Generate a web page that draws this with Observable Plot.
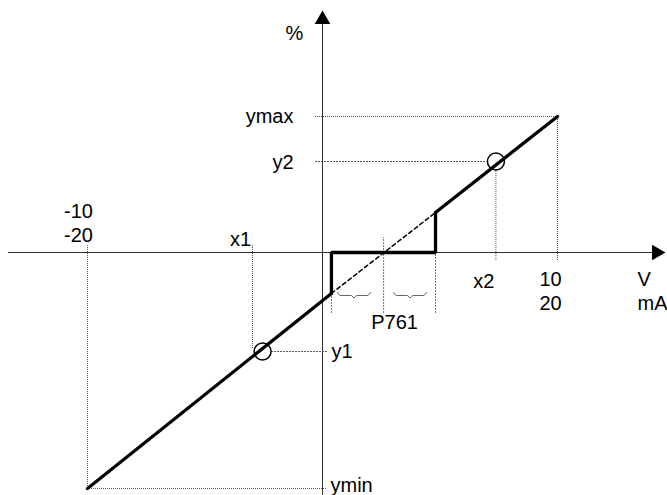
<!DOCTYPE html>
<html><head><meta charset="utf-8">
<script src="https://cdn.jsdelivr.net/npm/d3@7"></script>
<script src="https://cdn.jsdelivr.net/npm/@observablehq/plot@0.6"></script>
<style>body{margin:0;background:#fff} svg{display:block}</style>
</head><body><div id="chart"></div>
<script>
// ---- data (V on x, % on y) ----
const inputV = [-10, 10];            // input range, volts
const inputMA = [-20, 20];           // input range, milliamps
const outMax = 100;                  // ymax (%)
const outMin = -173.5;               // ymin (%)
const point1 = [-2.55, -72.8];       // (x1, y1) marker
const x1Guide = -2.98;
const point2 = [7.38, 66.9];         // (x2, y2) marker
const deadband = [0.38, 2.6, 4.81];  // low edge, centre, high edge (P761)
const stepLevels = [-30.1, 29.4];    // output at deadband edges
const axisLabelsX = ["V", "mA"];
const axisLabelY = "%";

// ---- scales ----
const pxPerV = 23.5, pxPerPct = 1.36, x0 = 322, y0 = 252;
const W = 667, H = 495;
const xDom = [-x0 / pxPerV, (W - x0) / pxPerV];
const yDom = [-(H - y0) / pxPerPct, y0 / pxPerPct];
const px = p => p / pxPerV, py = p => p / pxPerPct;   // pixel offsets -> data units

const grey = "#555";
const font = "Liberation Sans, Arial, sans-serif";
const fs = 20;

// braces under the two halves of the deadband
function brace(a, b, top) {
  const m = (a + b) / 2, d = py(3);
  return [[a, top], [a + px(2.5), top - d], [m - px(2.5), top - d], [m, top - d - py(2.5)],
          [m + px(2.5), top - d], [b - px(2.5), top - d], [b, top]];
}
const braces = [
  brace(deadband[0] + px(6), deadband[1] - px(13), -py(40)),
  brace(deadband[1] + px(10), deadband[2] - px(9), -py(40))
];

// label anchors (data) with pixel nudges
const labels = [
  {x: 0, y: outMax, t: axisLabelY, dx: -28, dy: -83, a: "middle"},
  {x: 0, y: outMax, t: "ymax", dx: -29, dy: 0, a: "end"},
  {x: 0, y: point2[1], t: "y2", dx: -29, dy: 1, a: "end"},
  {x: inputV[0], y: 0, t: String(inputV[0]), dx: -9, dy: -41, a: "middle"},
  {x: inputV[0], y: 0, t: String(inputMA[0]), dx: -9, dy: -17, a: "middle"},
  {x: x1Guide, y: 0, t: "x1", dx: -12, dy: -13, a: "middle"},
  {x: point2[0], y: 0, t: "x2", dx: -12, dy: 29, a: "middle"},
  {x: inputV[1], y: 0, t: String(inputV[1]), dx: -7, dy: 27, a: "middle"},
  {x: inputV[1], y: 0, t: String(inputMA[1]), dx: -7, dy: 51, a: "middle"},
  {x: inputV[1], y: 0, t: axisLabelsX[0], dx: 80, dy: 27, a: "start"},
  {x: inputV[1], y: 0, t: axisLabelsX[1], dx: 80, dy: 51, a: "start"},
  {x: deadband[1], y: 0, t: "P761", dx: 11, dy: 70, a: "middle"},
  {x: 0, y: point1[1], t: "y1", dx: 9, dy: 0, a: "start"},
  {x: 0, y: outMin, t: "ymin", dx: 8, dy: -3, a: "start"}
];
const lx = d => d.x + px(d.dx), ly = d => d.y - py(d.dy);
const textMarks = ["start", "middle", "end"].map(a =>
  Plot.text(labels.filter(d => d.a === a), {x: lx, y: ly, text: "t", textAnchor: a, fontSize: fs, fill: "#000"}));

const dotted = {stroke: grey, strokeWidth: 1, strokeDasharray: "1,1"};
const XY = {x: d => d[0], y: d => d[1]};

const chart = Plot.plot({
  width: W, height: H,
  margin: 0,
  x: {domain: xDom, range: [0, W], axis: null},
  y: {domain: yDom, range: [H, 0], axis: null},
  style: {fontFamily: font, background: "#fff"},
  marks: [
    // axes
    Plot.ruleX([0], {y1: yDom[0], y2: yDom[1] - py(22), stroke: "#333", strokeWidth: 1}),
    Plot.ruleY([0], {x1: xDom[0] + px(8), x2: xDom[1] - px(10), stroke: "#333", strokeWidth: 1}),
    Plot.dot([[0, yDom[1] - py(19)]], {...XY, symbol: "triangle", r: 5.8, fill: "#000", stroke: "none"}),
    Plot.dot([[xDom[1] - px(11), 0]], {...XY, symbol: "triangle", r: 5.8, rotate: 90, fill: "#000", stroke: "none"}),
    // horizontal guides
    Plot.ruleY([outMax], {x1: -px(7), x2: inputV[1], ...dotted}),
    Plot.ruleY([point2[1]], {x1: -px(7), x2: point2[0] - px(9), ...dotted, strokeDasharray: "2,1"}),
    Plot.ruleY([point1[1]], {x1: point1[0] + px(9), x2: px(6), ...dotted, strokeDasharray: "2,1"}),
    Plot.ruleY([outMin], {x1: inputV[0], x2: px(5), ...dotted}),
    // vertical guides
    Plot.ruleX([inputV[1]], {y1: -py(8), y2: outMax, ...dotted}),
    Plot.ruleX([point2[0]], {y1: -py(8), y2: point2[1] - py(7), ...dotted}),
    Plot.ruleX([inputV[0]], {y1: outMin, y2: py(7), ...dotted}),
    Plot.ruleX([x1Guide], {y1: point1[1] + py(3), y2: py(7), ...dotted}),
    // deadband ticks
    Plot.ruleX([deadband[0], deadband[2]], {y1: -py(61), y2: 0, stroke: "#777", strokeWidth: 1, strokeDasharray: "2,1"}),
    Plot.ruleX([deadband[1]], {y1: -py(61), y2: py(15), stroke: "#777", strokeWidth: 1, strokeDasharray: "2,1"}),
    // braces
    ...braces.map(b => Plot.line(b, {...XY, stroke: "#666", strokeWidth: 1})),
    // characteristic
    Plot.line([[inputV[0], outMin], [deadband[0], stepLevels[0]]], {...XY, stroke: "#000", strokeWidth: 3.3}),
    Plot.line([[deadband[0], stepLevels[0]], [deadband[2], stepLevels[1]]], {...XY, stroke: "#000", strokeWidth: 1.5, strokeDasharray: "4,3"}),
    Plot.line([[deadband[2], stepLevels[1]], [inputV[1], outMax]], {...XY, stroke: "#000", strokeWidth: 3.3}),
    Plot.line([[deadband[0], stepLevels[0]], [deadband[0], 0], [deadband[2], 0], [deadband[2], stepLevels[1]]],
      {...XY, stroke: "#000", strokeWidth: 3.3, strokeLinejoin: "miter"}),
    // markers
    Plot.dot([point1, point2], {...XY, r: 8.5, stroke: "#000", strokeWidth: 1.5, fill: "none"}),
    // labels
    ...textMarks
  ]
});
document.getElementById("chart").append(chart);
</script></body></html>
